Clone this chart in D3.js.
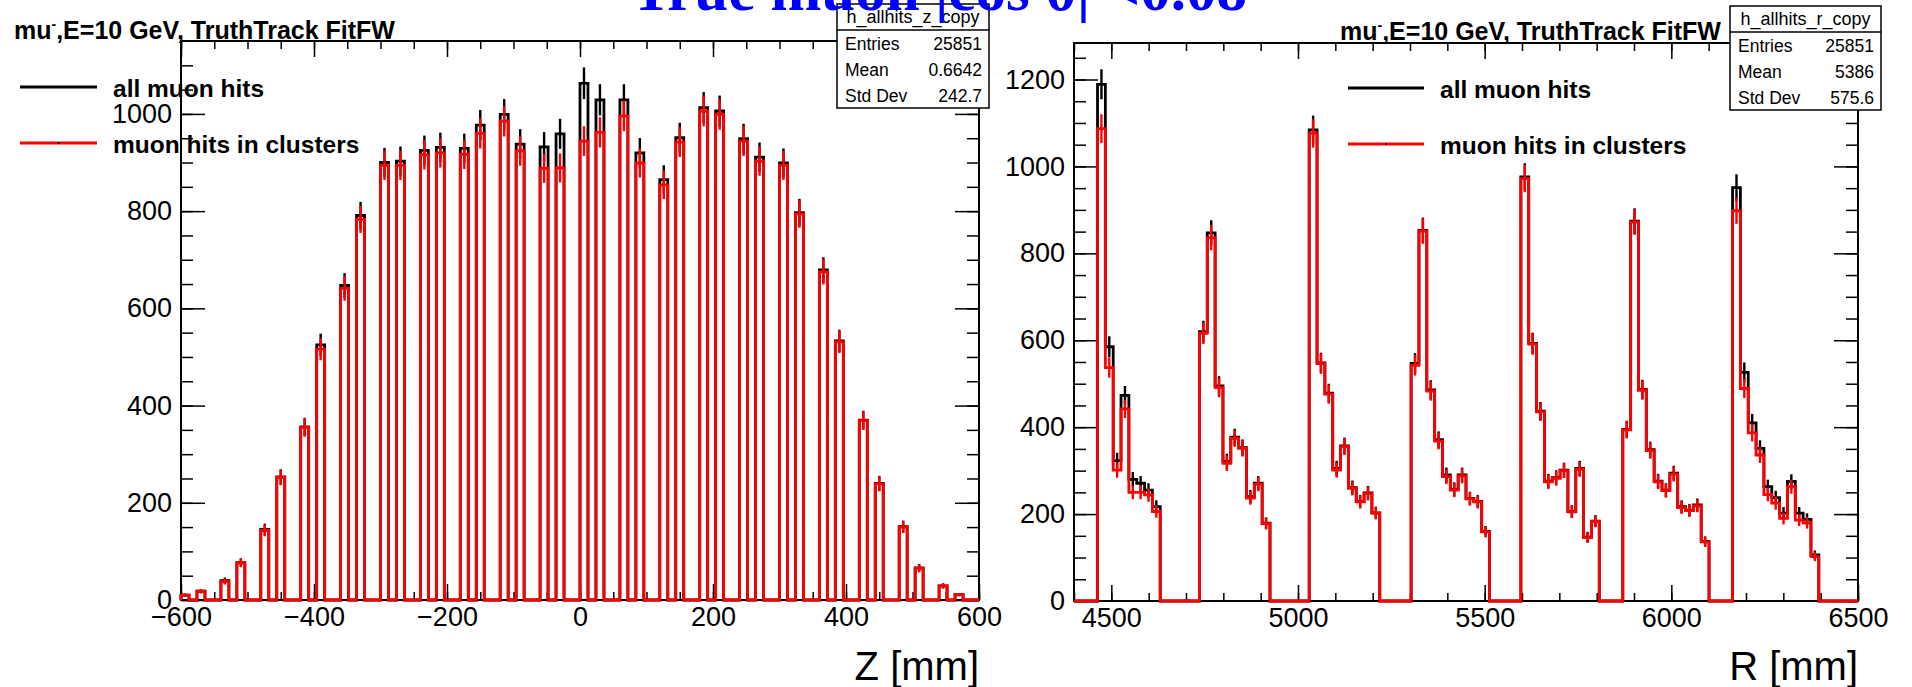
<!DOCTYPE html>
<html>
<head>
<meta charset="utf-8">
<script src="https://cdn.jsdelivr.net/npm/d3@7"></script>
<style>
  body { margin: 0; background: #fff; }
  svg { display: block; font-family: "Liberation Sans", Arial, Helvetica, sans-serif; }
</style>
</head>
<body>
<svg id="chart" width="1912" height="687"></svg>
<script>
// Z histogram: 100 bins of 12 mm from -600 to 600
const zRange = [-600, 600];
const zBins = 100;
const zAll = [
  10, 0, 18, 0, 0,   40, 0, 77, 0, 0,   145, 0, 253, 0, 0,   356, 0, 525, 0, 0,
  647, 0, 791, 0, 0,  900, 0, 903, 0, 0, 925, 0, 931, 0, 0,   929, 0, 977, 0, 0,
  999, 0, 938, 0, 0,  932, 0, 959, 0, 0, 1063, 0, 1029, 0, 0, 1029, 0, 920, 0, 0,
  865, 0, 951, 0, 0,  1013, 0, 1006, 0, 0, 949, 0, 911, 0, 0, 899, 0, 797, 0, 0,
  679, 0, 533, 0, 0,  370, 0, 240, 0, 0, 151, 0, 66, 0, 0,    29, 0, 11, 0, 0
];
const zClus = [
  10, 0, 18, 0, 0,   38, 0, 76, 0, 0,   143, 0, 252, 0, 0,   355, 0, 516, 0, 0,
  641, 0, 783, 0, 0,  894, 0, 894, 0, 0, 916, 0, 920, 0, 0,   917, 0, 960, 0, 0,
  985, 0, 924, 0, 0,  888, 0, 889, 0, 0, 944, 0, 962, 0, 0,   996, 0, 899, 0, 0,
  854, 0, 942, 0, 0,  1006, 0, 999, 0, 0, 944, 0, 903, 0, 0, 894, 0, 794, 0, 0,
  675, 0, 531, 0, 0,  369, 0, 239, 0, 0, 150, 0, 65, 0, 0,    29, 0, 11, 0, 0
];

// R histogram: 100 bins of 21 mm from 4400 to 6500
const rRange = [4400, 6500];
const rBins = 100;
const rAll = [
  0, 0, 0,
  1189, 585, 323, 473, 280, 271, 255, 217,
  0, 0, 0, 0, 0,
  620, 847, 495, 321, 377, 353, 240, 271, 179,
  0, 0, 0, 0, 0,
  1084, 548, 478, 305, 357, 261, 229, 249, 203,
  0, 0, 0, 0,
  547, 853, 486, 371, 290, 257, 290, 236, 229, 160,
  0, 0, 0, 0,
  976, 593, 437, 276, 284, 301, 206, 305, 147, 184,
  0, 0, 0,
  395, 874, 487, 348, 276, 255, 294, 217, 209, 221, 137,
  0, 0, 0,
  951, 526, 410, 351, 263, 238, 202, 275, 202, 188, 106,
  0, 0, 0, 0, 0
];
const rClus = [
  0, 0, 0,
  1087, 537, 301, 442, 250, 250, 244, 206,
  0, 0, 0, 0, 0,
  616, 836, 491, 317, 374, 351, 237, 269, 178,
  0, 0, 0, 0, 0,
  1076, 546, 476, 301, 355, 259, 228, 247, 202,
  0, 0, 0, 0,
  542, 851, 483, 368, 286, 255, 288, 235, 228, 159,
  0, 0, 0, 0,
  972, 591, 435, 274, 282, 300, 205, 303, 146, 183,
  0, 0, 0,
  394, 872, 485, 346, 274, 254, 292, 215, 208, 219, 136,
  0, 0, 0,
  898, 489, 387, 336, 245, 225, 190, 263, 186, 180, 102,
  0, 0, 0, 0, 0
];

const zTicks = [-600, -400, -200, 0, 200, 400, 600];
const rTicks = [4500, 5000, 5500, 6000, 6500];
const zYTicks = [0, 200, 400, 600, 800, 1000];
const rYTicks = [0, 200, 400, 600, 800, 1000, 1200];

const legendLabels = ["all muon hits", "muon hits in clusters"];
const legendColors = ["#000000", "#ff0000"];
const statLabels = ["Entries", "Mean", "Std Dev"];
const zStats = ["25851", "0.6642", "242.7"];
const rStats = ["25851", "5386", "575.6"];

const svg = d3.select("#chart");

const panels = [
  {
    x0: 181, x1: 979, y0: 41, y1: 600, ymax: 1150,
    range: zRange, nbins: zBins, all: zAll, clus: zClus,
    xMajor: zTicks, xMinor: d3.range(-600, 601, 50),
    yMajor: zYTicks, yMinor: d3.range(0, 1150, 50),
    xTitle: "Z [mm]",
    titleX: 14, titleY: 39,
    leg: { x1: 20, x2: 97, tx: 113, y: [87, 143] },
    stats: { x: 837, y: 4, w: 152, h: 104, name: "h_allhits_z_copy", vals: zStats }
  },
  {
    x0: 1074, x1: 1858, y0: 43, y1: 601, ymax: 1284,
    range: rRange, nbins: rBins, all: rAll, clus: rClus,
    xMajor: rTicks, xMinor: d3.range(4400, 6501, 100),
    yMajor: rYTicks, yMinor: d3.range(0, 1284, 50),
    xTitle: "R [mm]",
    titleX: 1340, titleY: 40,
    leg: { x1: 1348, x2: 1424, tx: 1440, y: [88, 144] },
    stats: { x: 1730, y: 6, w: 151, h: 104, name: "h_allhits_r_copy", vals: rStats }
  }
];

function drawPanel(p) {
  const g = svg.append("g");
  const x = d3.scaleLinear().domain(p.range).range([p.x0, p.x1]);
  const y = d3.scaleLinear().domain([0, p.ymax]).range([p.y1, p.y0]);
  const step = (p.range[1] - p.range[0]) / p.nbins;
  const edges = d3.range(p.nbins + 1).map(i => p.range[0] + i * step);

  g.append("rect")
    .attr("x", p.x0).attr("y", p.y0)
    .attr("width", p.x1 - p.x0).attr("height", p.y1 - p.y0)
    .attr("fill", "none").attr("stroke", "#000").attr("stroke-width", 2);

  const fmt = d3.format("d");
  const axes = [
    [d3.axisBottom(x).tickValues(p.xMajor).tickSizeInner(-16).tickPadding(7).tickFormat(fmt), `translate(0,${p.y1})`],
    [d3.axisBottom(x).tickValues(p.xMinor).tickSizeInner(-8).tickFormat(""), `translate(0,${p.y1})`],
    [d3.axisTop(x).tickValues(p.xMajor).tickSizeInner(-16).tickFormat(""), `translate(0,${p.y0})`],
    [d3.axisTop(x).tickValues(p.xMinor).tickSizeInner(-8).tickFormat(""), `translate(0,${p.y0})`],
    [d3.axisLeft(y).tickValues(p.yMajor).tickSizeInner(-24).tickPadding(9).tickFormat(fmt), `translate(${p.x0},0)`],
    [d3.axisLeft(y).tickValues(p.yMinor).tickSizeInner(-12).tickFormat(""), `translate(${p.x0},0)`],
    [d3.axisRight(y).tickValues(p.yMajor).tickSizeInner(-24).tickFormat(""), `translate(${p.x1},0)`],
    [d3.axisRight(y).tickValues(p.yMinor).tickSizeInner(-12).tickFormat(""), `translate(${p.x1},0)`]
  ];
  axes.forEach(([ax, tr]) => {
    const a = g.append("g").attr("transform", tr).call(ax.tickSizeOuter(0));
    a.select(".domain").remove();
    a.selectAll("line").attr("stroke", "#000").attr("stroke-width", 1.5);
    a.selectAll("text").attr("font-size", 27).attr("fill", "#000")
      .attr("font-family", "'Liberation Sans', Arial, sans-serif");
  });

  // histograms: outline + sqrt(N) error bars
  const line = d3.line().x(d => x(d[0])).y(d => y(d[1]));
  [[p.all, legendColors[0]], [p.clus, legendColors[1]]].forEach(([vals, col]) => {
    const pts = [[edges[0], 0]];
    vals.forEach((v, i) => { pts.push([edges[i], v], [edges[i + 1], v]); });
    pts.push([edges[p.nbins], 0]);
    g.append("path").attr("d", line(pts))
      .attr("fill", "none").attr("stroke", col).attr("stroke-width", 2.8);

    const errs = vals.map((v, i) => ({ v, c: (edges[i] + edges[i + 1]) / 2 })).filter(d => d.v > 0);
    g.append("g").selectAll("line").data(errs).join("line")
      .attr("x1", d => x(d.c)).attr("x2", d => x(d.c))
      .attr("y1", d => y(d.v - Math.sqrt(d.v)))
      .attr("y2", d => y(d.v + Math.sqrt(d.v)))
      .attr("stroke", col).attr("stroke-width", 2.4);
  });

  // axis title
  g.append("text").attr("x", p.x1).attr("y", 680)
    .attr("text-anchor", "end").attr("font-size", 40).text(p.xTitle);

  // pad title
  const t = g.append("text").attr("x", p.titleX).attr("y", p.titleY)
    .attr("font-weight", "bold").attr("font-size", 25);
  t.append("tspan").text("mu");
  t.append("tspan").attr("dy", -10).attr("font-size", 14).text("-");
  t.append("tspan").attr("dy", 10).text(",E=10 GeV, TruthTrack FitFW");

  // legend
  legendLabels.forEach((lab, i) => {
    const ly = p.leg.y[i];
    g.append("line").attr("x1", p.leg.x1).attr("x2", p.leg.x2)
      .attr("y1", ly).attr("y2", ly)
      .attr("stroke", legendColors[i]).attr("stroke-width", 3);
    g.append("text").attr("x", p.leg.tx).attr("y", ly + 10)
      .attr("font-weight", "bold").attr("font-size", 24.5).text(lab);
  });
  g.append("rect").attr("x", (p.leg.x1 + p.leg.x2) / 2 - 1).attr("y", p.leg.y[1] - 1)
    .attr("width", 2).attr("height", 2).attr("fill", "#000");

  // stats box
  const s = p.stats;
  const sb = g.append("g");
  sb.append("rect").attr("x", s.x).attr("y", s.y).attr("width", s.w).attr("height", s.h)
    .attr("fill", "#fff").attr("stroke", "#000").attr("stroke-width", 1.5);
  sb.append("line").attr("x1", s.x).attr("x2", s.x + s.w)
    .attr("y1", s.y + 26).attr("y2", s.y + 26).attr("stroke", "#000").attr("stroke-width", 1.5);
  sb.append("text").attr("x", s.x + s.w / 2).attr("y", s.y + 19)
    .attr("text-anchor", "middle").attr("font-size", 18).text(s.name);
  statLabels.forEach((lab, i) => {
    const ty = s.y + 46 + i * 26;
    sb.append("text").attr("x", s.x + 8).attr("y", ty).attr("font-size", 17.5).text(lab);
    sb.append("text").attr("x", s.x + s.w - 7).attr("y", ty)
      .attr("text-anchor", "end").attr("font-size", 17.5).text(s.vals[i]);
  });
}

panels.forEach(drawPanel);

// canvas title (partly cut off at the top)
svg.append("text")
  .attr("x", 939).attr("y", 10)
  .attr("text-anchor", "middle")
  .attr("font-family", "'Liberation Serif', 'Times New Roman', serif")
  .attr("font-weight", "bold").attr("font-size", 61)
  .attr("fill", "#0000ff")
  .text("True muon |cos \u03B8| <0.08");
</script>
</body>
</html>
